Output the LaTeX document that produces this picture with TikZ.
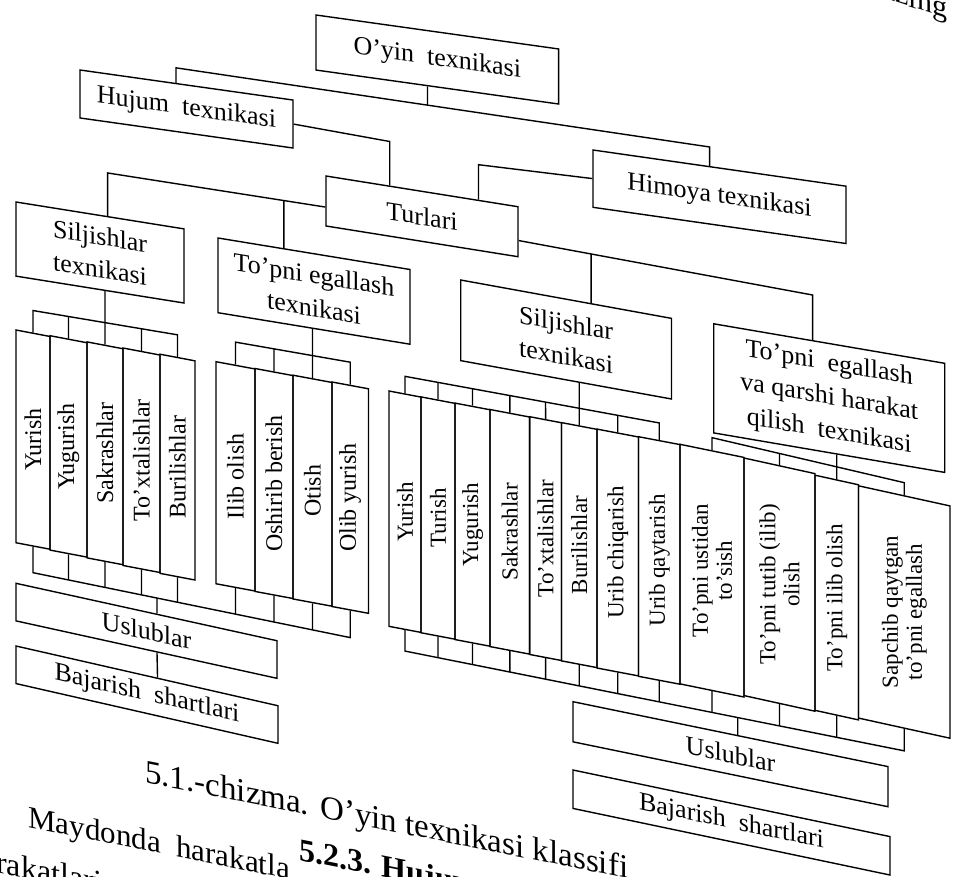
\documentclass[tikz,border=0pt]{standalone}
\usepackage{fontspec}
\setmainfont{Liberation Serif}
\usetikzlibrary{calc}
\tikzset{
 boxsty/.style={draw=black, line width=1.4pt, inner sep=1pt, align=center, font=\fontsize{26}{33}\selectfont},
 colsty/.style={draw=black, line width=1.4pt, inner sep=0pt},
 coltxt/.style={inner sep=0pt, align=center, font=\fontsize{24}{25}\selectfont},
 rcol/.style={font=\fontsize{23}{24}\selectfont},
 connsty/.style={draw=black, line width=1.4pt},
 pagetxt/.style={inner sep=0pt, anchor=base west, yslant=-0.2},
}
% name, xl, xr, y top-left, y bottom-right, slope, options, text
\newcommand\mkbox[8]{%
  \pgfmathsetmacro\myXc{(#2+#3)/2}%
  \pgfmathsetmacro\myYc{(#4+#5)/2}%
  \pgfmathsetmacro\myW{#3-#2}%
  \pgfmathsetmacro\myH{#5-#4-#6*(#3-#2)}%
  \pgfmathsetmacro\myS{-1*#6}%
  \node[boxsty, yslant=\myS, minimum width=\myW pt, minimum height=\myH pt, #7] (#1) at (\myXc,\myYc) {#8};%
}
\newcommand\mkcol[8]{%
  \pgfmathsetmacro\myXc{(#2+#3)/2}%
  \pgfmathsetmacro\myYc{(#4+#5)/2}%
  \pgfmathsetmacro\myW{#3-#2}%
  \pgfmathsetmacro\myH{#5-#4-#6*(#3-#2)}%
  \pgfmathsetmacro\myS{-1*#6}%
  \node[colsty, yslant=\myS, rotate=90, minimum width=\myH pt, minimum height=\myW pt] (#1) at (\myXc,\myYc) {};%
  \node[coltxt, rotate=90, #7] (#1t) at (#1.center) {#8};%
}
\begin{document}
\begin{tikzpicture}[x=1pt, y=-1pt]
\useasboundingbox[fill=white] (0,0) rectangle (955,876);
\clip (0,0) rectangle (955,876);

% ---- boxes
\mkbox{O}{316}{558.6}{15}{104}{0.14}{}{O'yin\enspace texnikasi}
\mkbox{H}{80}{293}{70}{148}{0.141}{}{Hujum\enspace texnikasi}
\mkbox{Hi}{593}{846}{150}{243.5}{0.143}{}{Himoya texnikasi}
\mkbox{T}{326}{518}{176}{256.7}{0.16}{}{Turlari}
\mkbox{S1}{16}{184}{202}{303}{0.16}{}{Siljishlar\\texnikasi}
\mkbox{TE}{218}{410}{238}{344.2}{0.164}{}{To'pni egallash\\texnikasi}
\mkbox{S2}{460.7}{671.5}{280}{399}{0.182}{}{Siljishlar\\texnikasi}
\mkbox{TQ}{713.7}{944.7}{323.8}{472.4}{0.171}{font=\fontsize{26}{34}\selectfont}{To'pni\enspace egallash\\va qarshi harakat\\qilish\enspace texnikasi}
\mkbox{UL}{16}{277}{583.3}{678.3}{0.22}{}{Uslublar}
\mkbox{BL}{16}{278}{646}{743.3}{0.228}{}{Bajarish\enspace shartlari}
\mkbox{UR}{573}{888}{701.7}{806.7}{0.206}{}{Uslublar}
\mkbox{BR}{573}{890}{770}{875}{0.21}{}{Bajarish\enspace shartlari}

% ---- columns, left group 1
\mkcol{L1}{16}{50}{330}{549.2}{0.19}{}{Yurish}
\mkcol{L2}{50}{87}{335.7}{557.1}{0.19}{}{Yugurish}
\mkcol{L3}{87}{123}{341.9}{564.7}{0.19}{}{Sakrashlar}
\mkcol{L4}{123}{160}{348.0}{572.5}{0.19}{}{To'xtalishlar}
\mkcol{L5}{160}{195}{354.2}{580}{0.19}{}{Burilishlar}
% ---- columns, left group 2
\mkcol{M1}{216}{255}{361.7}{591.0}{0.186}{}{Ilib olish}
\mkcol{M2}{255}{293}{368.5}{598.5}{0.186}{}{Oshirib berish}
\mkcol{M3}{293}{332}{375.2}{606.2}{0.186}{}{Otish}
\mkcol{M4}{332}{368.5}{382.0}{613.3}{0.186}{}{Olib yurish}
% ---- columns, right group
\mkcol{R1}{389}{421}{391}{632.4}{0.19}{rcol}{Yurish}
\mkcol{R2}{421}{455}{396.9}{639.2}{0.19}{rcol}{Turish}
\mkcol{R3}{455}{490}{403.1}{646.2}{0.19}{rcol}{Yugurish}
\mkcol{R4}{490}{529.6}{409.5}{654.1}{0.19}{rcol}{Sakrashlar}
\mkcol{R5}{529.6}{561.5}{416.7}{660.5}{0.19}{rcol}{To'xtalishlar}
\mkcol{R6}{561.5}{597}{422.6}{667.6}{0.19}{rcol}{Burilishlar}
\mkcol{R7}{597}{638.5}{429.1}{675.9}{0.19}{rcol}{Urib chiqarish}
\mkcol{R8}{638.5}{680}{436.7}{684.2}{0.19}{rcol}{Urib qaytarish}
\mkcol{R9}{680}{744}{444.3}{697}{0.205}{rcol}{To'pni ustidan\\to'sish}
\mkcol{R10}{744}{815}{458.0}{711.2}{0.22}{rcol}{To'pni tutib (ilib)\\olish}
\mkcol{R11}{815}{858.5}{475.2}{719.9}{0.22}{rcol}{To'pni ilib olish}
\mkcol{R12}{858.5}{950}{485.8}{738.2}{0.22}{rcol}{Sapchib qaytgan\\to'pni egallash}

% ---- top level connectors
\coordinate (hA) at ($(H.north west)!0.451!(H.north east)$);
\coordinate (hiA) at ($(Hi.north west)!0.461!(Hi.north east)$);
\coordinate (bA) at ($(hA)+(0,-15)$);
\coordinate (bB) at ($(hiA)+(0,-19)$);
\coordinate (oP) at ($(O.south west)!0.46!(O.south east)$);
\coordinate (oQ) at ($(O.north west)!0.46!(O.north east)$);
\draw[connsty] (hA) -- (bA) -- (bB) -- (hiA);
\draw[connsty] (oP) -- (intersection of oP--oQ and bA--bB);

% Hujum -> Turlari
\coordinate (tT1) at ($(T.north west)!0.333!(T.north east)$);
\coordinate (cHT) at ($(tT1)+(0,-44)$);
\draw[connsty] (H.east) -- (cHT) -- (tT1);
% Himoya -> Turlari
\coordinate (tT2) at ($(T.north west)!0.792!(T.north east)$);
\coordinate (cHiT) at ($(tT2)+(0,-35)$);
\draw[connsty] (Hi.west) -- (cHiT) -- (tT2);

% Turlari -> left boxes
\coordinate (tW) at ($(T.north west)!0.62!(T.south west)$);
\coordinate (s1T) at ($(S1.north west)!0.545!(S1.north east)$);
\coordinate (c1) at ($(s1T)+(0,-43)$);
\coordinate (teT) at ($(TE.north west)!0.344!(TE.north east)$);
\coordinate (teB) at ($(TE.south west)!0.344!(TE.south east)$);
\draw[connsty] (tW) -- (c1) -- (s1T);
\draw[connsty] (teT) -- (intersection of teT--teB and tW--c1);

% Turlari -> right boxes
\coordinate (tE) at ($(T.north east)!0.67!(T.south east)$);
\coordinate (tqT) at ($(TQ.north west)!0.4286!(TQ.north east)$);
\coordinate (c2) at ($(tqT)+(0,-45)$);
\coordinate (s2T) at ($(S2.north west)!0.618!(S2.north east)$);
\coordinate (s2B) at ($(S2.south west)!0.618!(S2.south east)$);
\draw[connsty] (tE) -- (c2) -- (tqT);
\draw[connsty] (s2T) -- (intersection of s2T--s2B and tE--c2);

% ---- combs above columns
\coordinate (g1a) at ($(L1.east)+(0,-22)$);
\coordinate (g1b) at ($(L5.east)+(0,-22)$);
\draw[connsty] (L1.east) -- (g1a) -- (g1b) -- (L5.east);
\draw[connsty] (L2.east) -- (intersection of L2.east--L2.center and g1a--g1b);
\draw[connsty] (L4.east) -- (intersection of L4.east--L4.center and g1a--g1b);
\draw[connsty] (L3.east) -- (intersection of L3.east--L3.center and S1.south west--S1.south east);

\coordinate (g2a) at ($(M1.east)+(0,-22.5)$);
\coordinate (g2b) at ($(M4.east)+(0,-22.5)$);
\draw[connsty] (M1.east) -- (g2a) -- (g2b) -- (M4.east);
\draw[connsty] (M2.east) -- (intersection of M2.east--M2.center and g2a--g2b);
\draw[connsty] (M3.east) -- (intersection of M3.east--M3.center and TE.south west--TE.south east);

\coordinate (g3a) at ($(R1.east)+(0,-17)$);
\coordinate (g3b) at ($(R8.east)+(0,-17)$);
\draw[connsty] (R1.east) -- (g3a) -- (g3b) -- (R8.east);
\draw[connsty] (R2.east) -- (intersection of R2.east--R2.center and g3a--g3b);
\draw[connsty] (R3.east) -- (intersection of R3.east--R3.center and g3a--g3b);
\draw[connsty] (R4.east) -- (intersection of R4.east--R4.center and g3a--g3b);
\draw[connsty] (R5.east) -- (intersection of R5.east--R5.center and g3a--g3b);
\draw[connsty] (R7.east) -- (intersection of R7.east--R7.center and g3a--g3b);
\draw[connsty] (R6.east) -- (intersection of R6.east--R6.center and S2.south west--S2.south east);

\coordinate (g4a) at ($(R9.east)+(0,-12.5)$);
\coordinate (g4b) at ($(R12.east)+(0,-12.5)$);
\draw[connsty] (R9.east) -- (g4a) -- (g4b) -- (R12.east);
\draw[connsty] (R10.east) -- (intersection of R10.east--R10.center and g4a--g4b);
\draw[connsty] (R11.east) -- (intersection of R11.east--R11.center and TQ.south west--TQ.south east);

% ---- combs below columns
\coordinate (k1a) at ($(L1.west)+(0,26)$);
\coordinate (k1b) at ($(M4.west)+(0,27)$);
\draw[connsty] (L1.west) -- (k1a) -- (k1b) -- (M4.west);
\draw[connsty] (L2.west) -- (intersection of L2.west--L2.center and k1a--k1b);
\draw[connsty] (L3.west) -- (intersection of L3.west--L3.center and k1a--k1b);
\draw[connsty] (L4.west) -- (intersection of L4.west--L4.center and k1a--k1b);
\draw[connsty] (L5.west) -- (intersection of L5.west--L5.center and k1a--k1b);
\draw[connsty] (M1.west) -- (intersection of M1.west--M1.center and k1a--k1b);
\draw[connsty] (M2.west) -- (intersection of M2.west--M2.center and k1a--k1b);
\draw[connsty] (M3.west) -- (intersection of M3.west--M3.center and k1a--k1b);
\coordinate (ulp) at ($(UL.north west)!0.54!(UL.north east)$);
\coordinate (ulq) at ($(UL.south west)!0.54!(UL.south east)$);
\coordinate (blp) at ($(BL.north west)!0.54!(BL.north east)$);
\draw[connsty] (ulp) -- (intersection of ulp--ulq and k1a--k1b);
\draw[connsty] (ulq) -- (blp);

\coordinate (k2a) at ($(R1.west)+(0,21)$);
\coordinate (k2b) at ($(R12.west)+(0,22)$);
\draw[connsty] (R1.west) -- (k2a) -- (k2b) -- (R12.west);
\draw[connsty] (R2.west) -- (intersection of R2.west--R2.center and k2a--k2b);
\draw[connsty] (R3.west) -- (intersection of R3.west--R3.center and k2a--k2b);
\draw[connsty] (R4.west) -- (intersection of R4.west--R4.center and k2a--k2b);
\draw[connsty] (R5.west) -- (intersection of R5.west--R5.center and k2a--k2b);
\draw[connsty] (R6.west) -- (intersection of R6.west--R6.center and k2a--k2b);
\draw[connsty] (R7.west) -- (intersection of R7.west--R7.center and k2a--k2b);
\draw[connsty] (R8.west) -- (intersection of R8.west--R8.center and k2a--k2b);
\draw[connsty] (R9.west) -- (intersection of R9.west--R9.center and k2a--k2b);
\draw[connsty] (R10.west) -- (intersection of R10.west--R10.center and k2a--k2b);
\draw[connsty] (R11.west) -- (intersection of R11.west--R11.center and k2a--k2b);
\coordinate (urp) at ($(UR.north west)!0.523!(UR.north east)$);
\coordinate (urq) at ($(UR.south west)!0.523!(UR.south east)$);
\draw[connsty] (urp) -- (intersection of urp--urq and k2a--k2b);

% ---- page text around the figure
\node[pagetxt, font=\fontsize{33}{33}\selectfont] (cap) at (145,782) {5.1.-chizma. O'yin texnikasi\ klassifi};
\node[pagetxt, font=\fontsize{31}{31}\selectfont] (p1) at (28,827) {Maydonda\ \ harakatla};
\node[pagetxt, font=\fontsize{32}{32}\selectfont\bfseries] (p2) at (299,860) {5.2.3. Hujum};
\node[pagetxt, font=\fontsize{32}{32}\selectfont] (p3) at (-4,872) {rakatlari};
\node[pagetxt, yslant=-0.13, font=\fontsize{30}{30}\selectfont] (p4) at (872,-6) {razing};
\end{tikzpicture}
\end{document}
